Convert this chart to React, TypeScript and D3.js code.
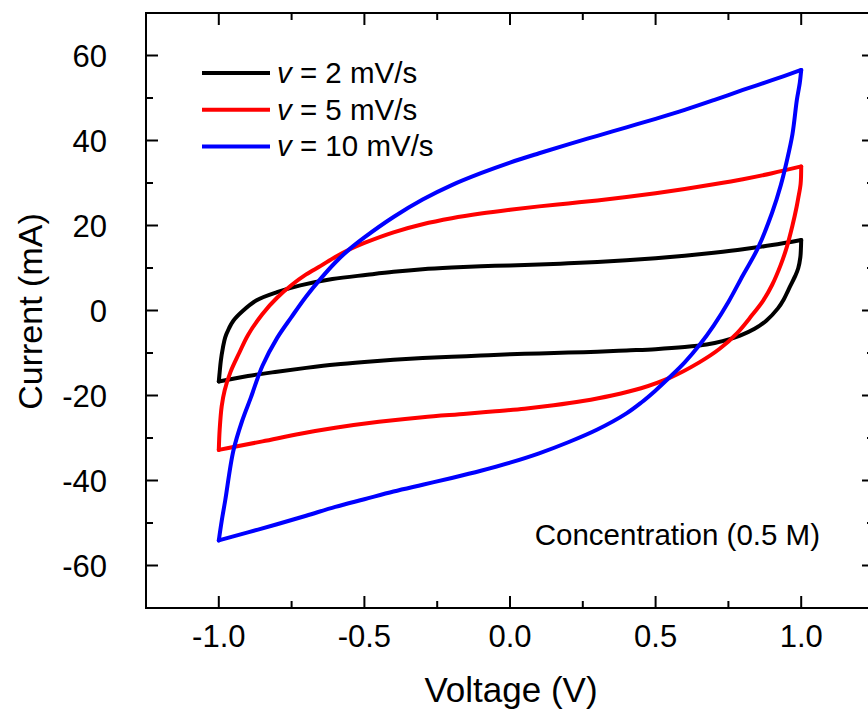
import React from "react";
import * as d3 from "d3";

// ---- Data (Voltage V, Current mA) ----
const scan2Forward: [number, number][] = [
  [-1.0, -16.7], [-0.997, -14.5], [-0.993, -11.8], [-0.986, -8.8], [-0.978, -6.3], [-0.965, -4.2],
  [-0.95, -2.4], [-0.916, 0.0], [-0.87, 2.4], [-0.8, 4.3], [-0.72, 5.9], [-0.61, 7.4],
  [-0.49, 8.4], [-0.4, 9.1], [-0.3, 9.7], [-0.2, 10.1], [-0.1, 10.4], [0.0, 10.6],
  [0.1, 10.8], [0.2, 11.1], [0.3, 11.4], [0.4, 11.8], [0.5, 12.3], [0.6, 12.9],
  [0.7, 13.6], [0.8, 14.4], [0.9, 15.4], [1.0, 16.6],
];
const scan2Reverse: [number, number][] = [
  [1.0, 16.6], [0.999, 14.5], [0.997, 12.5], [0.99, 10.0], [0.98, 8.2], [0.97, 6.8],
  [0.955, 4.7], [0.94, 2.6], [0.92, 0.5], [0.88, -2.4], [0.84, -4.3], [0.79, -5.9],
  [0.73, -7.2], [0.675, -8.0], [0.6, -8.6], [0.5, -9.1], [0.4, -9.4], [0.3, -9.7],
  [0.2, -9.9], [0.1, -10.1], [0.0, -10.3], [-0.1, -10.6], [-0.2, -10.9], [-0.3, -11.2],
  [-0.4, -11.6], [-0.5, -12.1], [-0.6, -12.7], [-0.7, -13.5], [-0.8, -14.4], [-0.9, -15.4],
  [-1.0, -16.7],
];

const scan5Forward: [number, number][] = [
  [-1.0, -32.8], [-0.997, -28.0], [-0.99, -22.5], [-0.98, -18.8], [-0.96, -14.5], [-0.93, -10.0],
  [-0.9, -5.8], [-0.85, -0.8], [-0.8, 3.0], [-0.75, 6.0], [-0.7, 8.5], [-0.65, 10.5],
  [-0.6, 12.6], [-0.55, 14.4], [-0.5, 15.9], [-0.4, 18.4], [-0.3, 20.3], [-0.2, 21.7],
  [-0.1, 22.8], [0.0, 23.7], [0.1, 24.5], [0.2, 25.2], [0.3, 25.9], [0.4, 26.7],
  [0.5, 27.6], [0.6, 28.6], [0.7, 29.7], [0.8, 30.9], [0.9, 32.3], [1.0, 33.9],
];
const scan5Reverse: [number, number][] = [
  [1.0, 33.9], [0.998, 29.8], [0.99, 26.5], [0.984, 24.3], [0.97, 20.0], [0.95, 14.8],
  [0.93, 10.8], [0.9, 6.0], [0.87, 2.4], [0.83, -1.2], [0.78, -5.3], [0.72, -9.0],
  [0.65, -12.2], [0.55, -15.8], [0.45, -18.3], [0.35, -20.0], [0.25, -21.3], [0.15, -22.3],
  [0.05, -23.1], [-0.05, -23.7], [-0.15, -24.3], [-0.3, -25.1], [-0.45, -26.2], [-0.6, -27.6],
  [-0.72, -29.0], [-0.85, -30.8], [-0.95, -32.1], [-1.0, -32.8],
];

const scan10Forward: [number, number][] = [
  [-1.0, -54.1], [-0.99, -49.5], [-0.978, -44.7], [-0.95, -33.0], [-0.92, -26.0], [-0.89, -20.5],
  [-0.85, -13.0], [-0.8, -6.5], [-0.75, -1.5], [-0.7, 3.3], [-0.65, 7.5], [-0.6, 11.3],
  [-0.55, 14.5], [-0.5, 17.2], [-0.4, 22.0], [-0.3, 26.1], [-0.2, 29.5], [-0.1, 32.3],
  [0.0, 34.8], [0.1, 37.0], [0.2, 39.1], [0.3, 41.1], [0.4, 43.1], [0.5, 45.1],
  [0.6, 47.2], [0.7, 49.5], [0.8, 51.9], [0.9, 54.2], [1.0, 56.6],
];
const scan10Reverse: [number, number][] = [
  [1.0, 56.6], [0.995, 53.5], [0.985, 49.5], [0.97, 41.5], [0.95, 35.0], [0.93, 29.5],
  [0.9, 23.0], [0.85, 14.5], [0.8, 8.3], [0.75, 2.0], [0.7, -3.5], [0.65, -8.2],
  [0.6, -12.2], [0.55, -15.6], [0.5, -18.8], [0.45, -21.7], [0.4, -24.2], [0.3, -28.0],
  [0.2, -31.0], [0.1, -33.6], [0.0, -35.8], [-0.1, -37.7], [-0.2, -39.4], [-0.3, -41.0],
  [-0.4, -42.6], [-0.5, -44.4], [-0.6, -46.2], [-0.7, -48.3], [-0.8, -50.3], [-0.9, -52.2],
  [-1.0, -54.1],
];

const seriesNames = ["2", "5", "10"];
const seriesColors = ["#000000", "#ff0000", "#0000ff"];
const seriesBranches = [
  [scan2Forward, scan2Reverse],
  [scan5Forward, scan5Reverse],
  [scan10Forward, scan10Reverse],
];

const xTicks = [-1.0, -0.5, 0.0, 0.5, 1.0];
const xMinorTicks = [-1.25, -0.75, -0.25, 0.25, 0.75, 1.25];
const yTicks = [-60, -40, -20, 0, 20, 40, 60];
const yMinorTicks = [-70, -50, -30, -10, 10, 30, 50, 70];

const W = 868;
const H = 710;
const plot = { left: 146, right: 874, top: 13, bottom: 608 };

export default function App() {
  const x = d3.scaleLinear().domain([-1.25, 1.25]).range([plot.left, plot.right]);
  const y = d3.scaleLinear().domain([-70, 70]).range([plot.bottom, plot.top]);
  const line = d3
    .line<[number, number]>()
    .x((d) => x(d[0]))
    .y((d) => y(d[1]))
    .curve(d3.curveCatmullRom.alpha(0.5));

  const font = "Liberation Sans, Arial, sans-serif";
  const major = 12;
  const minor = 7;

  return (
    <svg
      width={W}
      height={H}
      style={{ position: "absolute", left: 0, top: 0, background: "#fff" }}
      fontFamily={font}
    >
      <rect x={0} y={0} width={W} height={H} fill="#fff" />
      {/* curves */}
      <g fill="none" strokeWidth={4} strokeLinejoin="round" strokeLinecap="round">
        {seriesBranches.map((branches, i) =>
          branches.map((b, j) => (
            <path key={`${i}-${j}`} d={line(b) || ""} stroke={seriesColors[i]} />
          ))
        )}
      </g>

      {/* frame */}
      <rect
        x={plot.left}
        y={plot.top}
        width={plot.right - plot.left}
        height={plot.bottom - plot.top}
        fill="none"
        stroke="#000"
        strokeWidth={2}
      />

      {/* ticks */}
      <g stroke="#000" strokeWidth={2}>
        {xTicks.map((t) => (
          <g key={`xt${t}`}>
            <line x1={x(t)} x2={x(t)} y1={plot.bottom} y2={plot.bottom - major} />
            <line x1={x(t)} x2={x(t)} y1={plot.top} y2={plot.top + major} />
          </g>
        ))}
        {xMinorTicks.map((t) => (
          <g key={`xm${t}`}>
            <line x1={x(t)} x2={x(t)} y1={plot.bottom} y2={plot.bottom - minor} />
            <line x1={x(t)} x2={x(t)} y1={plot.top} y2={plot.top + minor} />
          </g>
        ))}
        {yTicks.map((t) => (
          <g key={`yt${t}`}>
            <line x1={plot.left} x2={plot.left + major} y1={y(t)} y2={y(t)} />
            <line x1={plot.right} x2={plot.right - major} y1={y(t)} y2={y(t)} />
          </g>
        ))}
        {yMinorTicks.map((t) => (
          <g key={`ym${t}`}>
            <line x1={plot.left} x2={plot.left + minor} y1={y(t)} y2={y(t)} />
            <line x1={plot.right} x2={plot.right - minor} y1={y(t)} y2={y(t)} />
          </g>
        ))}
      </g>

      {/* tick labels */}
      <g fontSize={31} fill="#000">
        {xTicks.map((t) => (
          <text key={`xl${t}`} x={x(t)} y={647} textAnchor="middle">
            {d3.format(".1f")(t).replace("−", "-")}
          </text>
        ))}
        {yTicks.map((t) => (
          <text key={`yl${t}`} x={107} y={y(t) + 11} textAnchor="end">
            {String(t)}
          </text>
        ))}
      </g>

      {/* axis titles */}
      <text x={511} y={702} textAnchor="middle" fontSize={35} fill="#000">
        Voltage (V)
      </text>
      <text
        transform={`translate(42, ${(plot.top + plot.bottom) / 2 + 1}) rotate(-90)`}
        textAnchor="middle"
        fontSize={34}
        fill="#000"
      >
        Current (mA)
      </text>

      {/* legend */}
      {seriesNames.map((n, i) => (
        <g key={`lg${n}`}>
          <line x1={202} x2={270} y1={73 + i * 36.7} y2={73 + i * 36.7} stroke={seriesColors[i]} strokeWidth={4} />
          <text x={277} y={73 + i * 36.7 + 10} fontSize={29.5} fill="#000">
            <tspan fontStyle="italic">v</tspan>
            {` = ${n} mV/s`}
          </text>
        </g>
      ))}

      {/* annotation */}
      <text x={820} y={545} textAnchor="end" fontSize={29.5} fill="#000">
        Concentration (0.5 M)
      </text>
    </svg>
  );
}
